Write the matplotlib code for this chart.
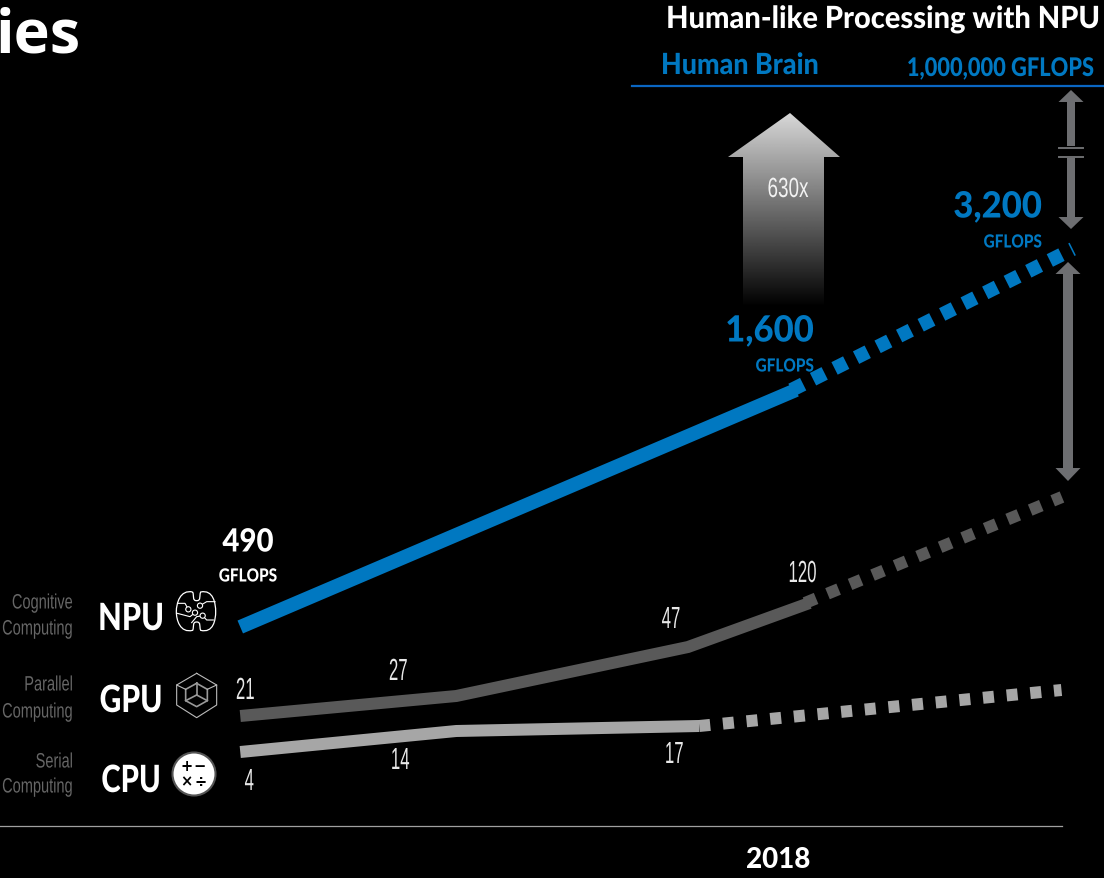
import numpy as np
import matplotlib
matplotlib.use("Agg")
import matplotlib.pyplot as plt
from matplotlib.patches import Polygon, Circle, PathPatch
from matplotlib.path import Path
from matplotlib.patheffects import AbstractPathEffect
from matplotlib.transforms import Affine2D

# Series values (GFLOPS) and their years
npu_years = [2015.61, 2018.08]
npu_values = [490, 1600]
npu_proj_years = [2018.06, 2019.31]
npu_proj_values = [1600, 3200]

gpu_years = [2015.61, 2016.57, 2017.6, 2018.14]
gpu_values = [21, 27, 47, 120]
gpu_proj_years = [2018.12, 2019.262]
gpu_proj_values = [120, 300]

cpu_years = [2015.61, 2016.57, 2017.65]
cpu_values = [4, 14, 17]
cpu_proj_years = [2017.65, 2019.26]
cpu_proj_values = [17, 30]

W, H = 1104, 878
BLUE = "#0078c1"
DARK = "#595959"
LIGHT = "#a6a6a6"
ARROW = "#6d6e71"
LABEL = "#666666"
BOLD = ["Lato", "Liberation Sans", "DejaVu Sans"]
THIN = ["Liberation Sans", "DejaVu Sans"]
px = 72 / 100  # points per pixel at this dpi


class Squeeze(AbstractPathEffect):
    """Narrows glyph outlines horizontally about a fixed display x."""

    def __init__(self, x0, sx):
        super().__init__()
        self.x0, self.sx = x0, sx

    def draw_path(self, renderer, gc, tpath, affine, rgbFace=None):
        squeeze = Affine2D().translate(-self.x0, 0).scale(self.sx, 1).translate(self.x0, 0)
        renderer.draw_path(gc, tpath, affine + squeeze, rgbFace)


fig = plt.figure(figsize=(W / 100 + 1e-6, H / 100 + 1e-6), dpi=100, facecolor="black")

# Overlay in pixel units for annotations and icons
ov = fig.add_axes([0, 0, 1, 1], facecolor="black")
ov.set_xlim(0, W)
ov.set_ylim(H, 0)
ov.axis("off")

XLIM = (2018 - 778 / 225, 2018 + 326 / 225)


def series_axes(values, heights):
    """Transparent axes whose y scale is log-piecewise through (value, height) knots."""
    lv = np.log10(np.asarray(values, float))
    hs = H - np.asarray(heights, float)
    s0 = (hs[1] - hs[0]) / (lv[1] - lv[0])
    s1 = (hs[-1] - hs[-2]) / (lv[-1] - lv[-2])
    lv_ext = np.r_[lv[0] - 10, lv, lv[-1] + 10]
    hs_ext = np.r_[hs[0] - 10 * s0, hs, hs[-1] + 10 * s1]

    def forward(v):
        return np.interp(np.log10(np.maximum(v, 1e-12)), lv_ext, hs_ext)

    def inverse(h):
        return 10 ** np.interp(h, hs_ext, lv_ext)

    ax = fig.add_axes([0, 0, 1, 1], facecolor="none")
    ax.set_yscale("function", functions=(forward, inverse))
    ax.set_xlim(*XLIM)
    ax.set_ylim(inverse(0.0), inverse(float(H)))
    ax.axis("off")
    return ax


def draw_series(ax, years, values, pyears, pvalues, color, width, dash):
    ax.plot(years, values, color=color, lw=width * px, solid_capstyle="butt",
            solid_joinstyle="miter")
    ax.plot(pyears, pvalues, color=color, lw=width * px, dash_capstyle="butt",
            linestyle=(0, dash))


ax_npu = series_axes([490, 1600, 3200], [627, 390, 249])
ax_gpu = series_axes([21, 27, 47, 120, 300], [716, 696, 647, 603, 497])
ax_cpu = series_axes([4, 14, 17, 30], [752, 731, 726, 690])

draw_series(ax_npu, npu_years, npu_values, npu_proj_years, npu_proj_values, BLUE, 14, (0.93, 0.79))
draw_series(ax_gpu, gpu_years, gpu_values, gpu_proj_years, gpu_proj_values, DARK, 12, (1, 1.03))
draw_series(ax_cpu, cpu_years, cpu_values, cpu_proj_years, cpu_proj_values, LIGHT, 12, (0.92, 1.06))


def value_label(ax, year, value, text, dx, dy):
    anchor = ax.transData.transform((year, value))[0] + dx
    ann = ax.annotate(text, (year, value), xytext=(dx, dy), textcoords="offset pixels",
                      ha="center", va="center", color="#e8e8e8", fontsize=22,
                      family=THIN)
    ann.set_path_effects([Squeeze(anchor, 0.55)])


for yr, v, dx, dy in [(2015.61, 21, 5, 25), (2016.57, 27, -58, 24),
                      (2017.6, 47, -17, 27), (2018.14, 120, -7, 29)]:
    value_label(ax_gpu, yr, v, str(v), dx, dy)
for yr, v, dx, dy in [(2015.61, 4, 9, -30), (2016.57, 14, -56, -30), (2017.65, 17, -25, -29)]:
    value_label(ax_cpu, yr, v, str(v), dx, dy)


def t(x, y, s, size, color="white", ha="center", weight="black", family=None, sx=1.0):
    txt = ov.text(x, y + 1, s, fontsize=size, color=color, ha=ha, va="center",
                  fontweight=weight, family=family or BOLD)
    if sx != 1.0:
        txt.set_path_effects([Squeeze(x, sx)])
    return txt


# Heading pieces
t(-4, 36, "ies", 44, ha="left", weight="bold", family=["Open Sans", "DejaVu Sans"])
t(1100, 18, "Human-like Processing with NPU", 22, ha="right", sx=0.95)
t(661, 65, "Human Brain", 21, color=BLUE, ha="left", sx=0.92)
t(1095, 67, "1,000,000 GFLOPS", 18.5, color=BLUE, ha="right", sx=0.85)
ov.plot([632, W], [86, 86], color="#0a66c2", lw=1.6)

# Peak labels
t(248, 541, "490", 23, sx=0.92)
t(248, 575, "GFLOPS", 13, sx=0.85)
t(814, 330, "1,600", 26, color=BLUE, ha="right", sx=0.96)
t(814, 365, "GFLOPS", 13, color=BLUE, ha="right", sx=0.85)
t(1042, 206, "3,200", 26, color=BLUE, ha="right", sx=0.96)
t(1042, 241, "GFLOPS", 13, color=BLUE, ha="right", sx=0.85)

# Row headings
t(131, 618, "NPU", 27, sx=0.82)
t(131, 700, "GPU", 27, sx=0.8)
t(131, 780, "CPU", 27, sx=0.78)
for y, s in [(602, "Cognitive"), (628, "Computing"), (684, "Parallel"),
             (711, "Computing"), (761, "Serial"), (786, "Computing")]:
    t(73, y, s, 15, color=LABEL, ha="right", weight="normal", family=THIN, sx=0.7)

# Baseline and year
ov.plot([0, 1062], [826, 826], color="#a0a0a0", lw=0.9)
t(778, 859, "2018", 20)

# Gradient up-arrow
arrow_pts = [(790, 113), (840, 157), (824, 157), (824, 307), (743, 307), (743, 157), (728, 157)]
grad = np.linspace(0.85, 0, 256).reshape(-1, 1)
im = ov.imshow(grad, extent=(728, 840, 307, 113), cmap="gray", vmin=0, vmax=1,
               aspect="auto", zorder=2)
clip = Polygon(arrow_pts, closed=True, transform=ov.transData, fc="none", ec="none")
ov.add_patch(clip)
im.set_clip_path(clip)
ov.set_xlim(0, W)
ov.set_ylim(H, 0)
t(788, 189, "630x", 20, color="#f2f2f2", weight="normal", family=THIN, sx=0.68).set_zorder(3)


def grey_arrow(cx, half_shaft, half_head, tip_top, tip_bot):
    """Grey arrow; a None tip leaves that end flat at the given y."""
    top_tip, top_y = tip_top
    bot_tip, bot_y = tip_bot
    pts = []
    if top_tip is not None:
        pts += [(cx, top_tip), (cx + half_head, top_y), (cx + half_shaft, top_y)]
    else:
        pts += [(cx + half_shaft, top_y)]
    if bot_tip is not None:
        pts += [(cx + half_shaft, bot_y), (cx + half_head, bot_y), (cx, bot_tip),
                (cx - half_head, bot_y), (cx - half_shaft, bot_y)]
    else:
        pts += [(cx + half_shaft, bot_y), (cx - half_shaft, bot_y)]
    if top_tip is not None:
        pts += [(cx - half_shaft, top_y), (cx - half_head, top_y)]
    else:
        pts += [(cx - half_shaft, top_y)]
    ov.add_patch(Polygon(pts, closed=True, fc=ARROW, ec="none", zorder=2))


grey_arrow(1071, 4, 12.5, (90, 102), (None, 146))
grey_arrow(1071, 4, 12.5, (None, 158), (229, 217))
ov.plot([1059, 1083], [148, 148], color=ARROW, lw=1.4)
ov.plot([1059, 1083], [157, 157], color=ARROW, lw=1.4)
grey_arrow(1068, 5, 12.5, (262, 274), (481, 468))


# Icons traced in 3x units around the row headings
def z(x, y):
    return x / 3, 570 + y / 3


def poly(points, closed=True, lw=0.8, color="#bbbbbb"):
    pts = [z(*p) for p in points]
    if closed:
        pts.append(pts[0])
    xs, ys = zip(*pts)
    ov.plot(xs, ys, color=color, lw=lw, solid_joinstyle="round")


# Cube in hexagon
poly([(590, 310), (650, 345), (650, 405), (590, 443), (530, 405), (530, 345)])
poly([(590, 340), (622, 358), (622, 392), (590, 410), (557, 392), (557, 358)], color="#999999", lw=1.2)
poly([(530, 345), (557, 358)], closed=False)
poly([(650, 345), (622, 358)], closed=False)
poly([(590, 375), (557, 392)], closed=False, color="#999999", lw=1.2)
poly([(590, 375), (622, 392)], closed=False, color="#999999", lw=1.2)
poly([(590, 340), (590, 375)], closed=False, color="#999999", lw=1.2)

# Brain-circuit outline
M, C, L = Path.MOVETO, Path.CURVE4, Path.LINETO
brain_pts = [(578, 66), (540, 58), (529, 100), (529, 125),
             (529, 150), (540, 190), (578, 181),
             (583, 170), (576, 156), (590, 156),
             (604, 156), (597, 170), (602, 181),
             (640, 190), (647, 150), (647, 125),
             (647, 100), (640, 58), (602, 66),
             (597, 78), (604, 92), (590, 92),
             (576, 92), (583, 78), (578, 66)]
brain_codes = [M] + [C] * 24
ov.add_patch(PathPatch(Path([z(*p) for p in brain_pts], brain_codes), fc="none",
                       ec="white", lw=0.9))
poly([(535, 100), (555, 100), (565, 118)], closed=False, color="white")
poly([(645, 95), (620, 95), (600, 107)], closed=False, color="white")
poly([(532, 130), (570, 140), (585, 128)], closed=False, color="white")
poly([(640, 150), (620, 150), (608, 137)], closed=False, color="white")
poly([(575, 158), (590, 140), (608, 137)], closed=False, color="white")
for cx, cy in [(565, 118), (585, 128), (600, 107), (608, 137)]:
    mx, my = z(cx, cy)
    ov.add_patch(Circle((mx, my), 2.6, fc="black", ec="white", lw=0.8, zorder=3))

# Calculator disc
ov.add_patch(Circle((194, 774), 21.5, fc="white", ec="#555555", lw=1.5, zorder=3))
for (gx, gy), s in [(z(561, 590), "+"), (z(598, 590), "\u2212"),
                    (z(560, 636), "\u00d7"), (z(601, 636), "\u00f7")]:
    ov.text(gx, gy, s, color="black", fontsize=10.5, fontweight="bold", ha="center",
            va="center", family="DejaVu Sans", zorder=4)

fig.savefig("out.png", dpi=100, facecolor="black")
